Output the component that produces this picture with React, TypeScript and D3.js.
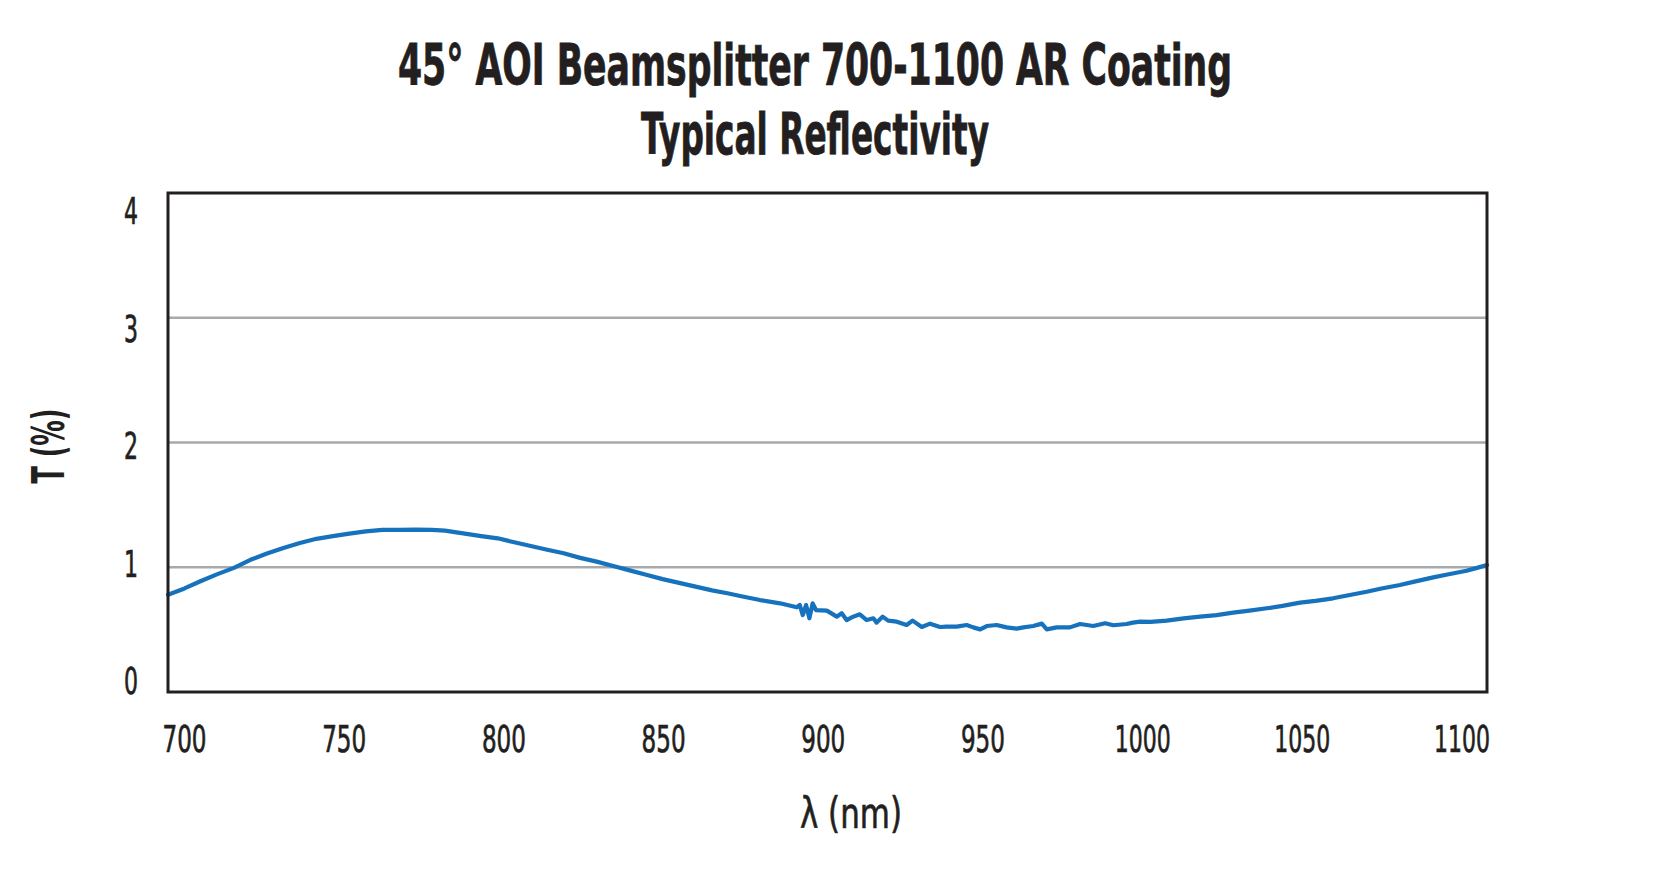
import React from "react";
import * as d3 from "d3";

// wavelength (nm) and reflectivity (%)
const wavelengths: number[] = [
  700, 705, 710, 715, 720, 725, 730, 735, 740, 745, 750, 755, 760, 765, 770, 775, 780, 784, 788, 791,
  795, 800, 805, 810, 815, 820, 825, 830, 835, 840, 845, 850, 855, 860, 865, 870, 873.5, 879.5, 885.6, 890.7,
  891.6, 892.5, 893.5, 894.5, 895.5, 896.5, 899.8, 902.8, 904.3, 905.8, 907.8, 909.8, 911.9, 913.9, 914.9, 916.7,
  918.4, 921, 924, 925.8, 928.6, 931.1, 934.1, 936.1, 939.2, 942.2, 944.2, 946.3, 948.3, 951.3, 954.3, 957.4,
  959.4, 962.4, 965, 966.5, 969.5, 973.5, 976.6, 980.6, 984.2, 986.7, 990.7, 992.6, 994.8, 998, 1002.9, 1008,
  1013, 1018, 1023, 1028, 1033.2, 1038, 1043.3, 1048, 1053.3, 1058, 1063.5, 1068, 1073.6, 1078, 1083.7, 1088,
  1093.8, 1097, 1100,
];
const reflectivity: number[] = [
  0.78, 0.83, 0.89, 0.945, 0.995, 1.06, 1.11, 1.155, 1.195, 1.228, 1.25, 1.27, 1.288, 1.3, 1.3, 1.302, 1.3, 1.294, 1.278, 1.266,
  1.25, 1.232, 1.2, 1.17, 1.14, 1.112, 1.075, 1.045, 1.01, 0.975, 0.94, 0.905, 0.875, 0.845, 0.815, 0.79, 0.77, 0.737, 0.711, 0.679,
  0.697, 0.617, 0.697, 0.591, 0.711, 0.657, 0.652, 0.604, 0.631, 0.577, 0.604, 0.623, 0.577, 0.591, 0.556, 0.604,
  0.572, 0.564, 0.537, 0.572, 0.521, 0.548, 0.521, 0.524, 0.524, 0.537, 0.518, 0.502, 0.529, 0.537, 0.518, 0.508,
  0.518, 0.529, 0.548, 0.502, 0.518, 0.518, 0.545, 0.529, 0.551, 0.535, 0.545, 0.556, 0.564, 0.562, 0.572, 0.59,
  0.604, 0.616, 0.636, 0.652, 0.671, 0.69, 0.716, 0.73, 0.751, 0.776, 0.804, 0.83, 0.858, 0.885, 0.919, 0.942,
  0.972, 0.995, 1.018,
];

const xTicks: number[] = [700, 750, 800, 850, 900, 950, 1000, 1050, 1100];
const yTicks: number[] = [0, 1, 2, 3, 4];
const gridValues: number[] = [1, 2, 3];
const titleLines: string[] = ["45° AOI Beamsplitter 700-1100 AR Coating", "Typical Reflectivity"];

const W = 1667;
const H = 884;
const margin = { top: 193, right: 180, bottom: 192, left: 168 };
const font = "'DejaVu Sans Condensed', 'Liberation Sans Narrow', 'DejaVu Sans', sans-serif";
const ink = "#231f20";

const App: React.FC = () => {
  const x = d3.scaleLinear().domain([700, 1100]).range([margin.left, W - margin.right]);
  const y = d3.scaleLinear().domain([0, 4]).range([H - margin.bottom, margin.top]);
  // tick labels in the original sit slightly inside the frame
  const xLabel = d3.scaleLinear().domain([700, 1100]).range([184.5, 1462]);
  const yLabel = d3.scaleLinear().domain([0, 4]).range([694, 224]);

  const points: [number, number][] = wavelengths.map((w, i) => [w, reflectivity[i]]);
  const line = d3
    .line<[number, number]>()
    .x(d => x(d[0]))
    .y(d => y(d[1]));

  const [x0, x1] = x.range();
  const [y0, y1] = y.range();

  return (
    <svg
      width={W}
      height={H}
      viewBox={`0 0 ${W} ${H}`}
      style={{ position: "absolute", left: 0, top: 0, background: "#fff", display: "block" }}
    >
      <rect x={0} y={0} width={W} height={H} fill="#fff" />

      <text x={815} y={85} textAnchor="middle" fontFamily={font} fontWeight="bold" fontSize={57}
        fill={ink} stroke={ink} strokeWidth={0.8} textLength={834} lengthAdjust="spacingAndGlyphs">
        {titleLines[0]}
      </text>
      <text x={815} y={154} textAnchor="middle" fontFamily={font} fontWeight="bold" fontSize={57}
        fill={ink} stroke={ink} strokeWidth={0.8} textLength={348} lengthAdjust="spacingAndGlyphs">
        {titleLines[1]}
      </text>

      {gridValues.map(v => (
        <line key={v} x1={x0} x2={x1} y1={y(v)} y2={y(v)} stroke="#a7a9ac" strokeWidth={2.4} />
      ))}

      <path d={line(points) ?? ""} fill="none" stroke="#1672bd" strokeWidth={4.2}
        strokeLinejoin="round" strokeLinecap="round" />

      <rect x={x0} y={y1} width={x1 - x0} height={y0 - y1} fill="none" stroke={ink} strokeWidth={3} />

      {xTicks.map(t => {
        const s = String(t);
        return (
          <text key={t} x={xLabel(t)} y={752} textAnchor="middle" fontFamily={font} fontSize={38}
            fill={ink} stroke={ink} strokeWidth={0.7}
            textLength={s.length === 4 ? 56 : 44} lengthAdjust="spacingAndGlyphs">
            {s}
          </text>
        );
      })}

      {yTicks.map(t => (
        <text key={t} x={131} y={yLabel(t)} textAnchor="middle" fontFamily={font} fontSize={38}
          fill={ink} stroke={ink} strokeWidth={0.7} textLength={14} lengthAdjust="spacingAndGlyphs">
          {t}
        </text>
      ))}

      <text x={851} y={828} textAnchor="middle" fontFamily={font} fontSize={42} fill={ink}
        stroke={ink} strokeWidth={0.6} textLength={102} lengthAdjust="spacingAndGlyphs">
        λ (nm)
      </text>
      <text transform="translate(64,446) rotate(-90)" textAnchor="middle" fontFamily={font}
        fontWeight="bold" fontSize={44} fill={ink} textLength={75} lengthAdjust="spacingAndGlyphs">
        T (%)
      </text>
    </svg>
  );
};

export default App;
